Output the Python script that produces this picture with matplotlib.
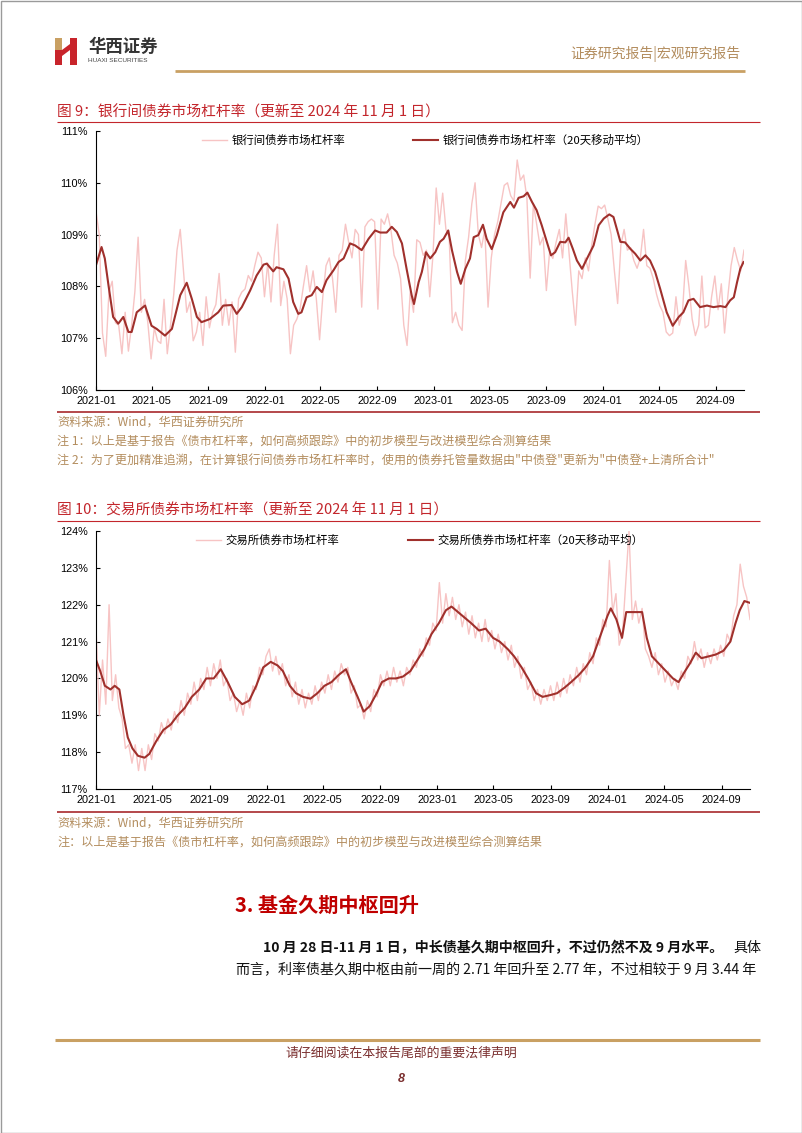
import numpy as np
import pandas as pd
import matplotlib
matplotlib.use("Agg")
import matplotlib.pyplot as plt
import matplotlib.dates as mdates
from matplotlib.patches import Rectangle, Polygon
from matplotlib.ticker import FuncFormatter

plt.rcParams['font.family'] = ['Noto Sans CJK SC', 'DejaVu Sans']

# ---------------- data ----------------
START = '2021-01-01'
END = '2024-11-01'

# chart 1: interbank bond market leverage, weekly readings of the daily line
raw1_values = [
    109.45, 109.0, 107.1, 106.65, 107.9, 108.1, 107.3, 107.25, 106.7, 107.5, 106.75,
    107.25, 107.9, 108.95, 107.5, 107.75, 107.3, 106.6, 107.2, 106.95, 106.9,
    107.75, 106.7, 107.25, 107.85, 108.7, 109.1, 108.3, 107.5, 107.7, 106.95,
    107.12, 107.5, 106.86, 107.8, 107.2, 107.5, 107.65, 108.25, 107.25, 107.75,
    107.25, 107.7, 106.73, 107.76, 107.89, 107.95, 108.21, 108.1, 108.4, 108.66,
    108.55, 107.8, 108.45, 107.7, 108.6, 109.2, 107.63, 108.1, 107.76, 106.7,
    107.25, 107.37, 107.57, 108.0, 108.4, 107.9, 108.3, 107.76, 106.97, 107.8,
    108.4, 108.55, 108.15, 107.5, 108.6, 108.7, 109.2, 108.85, 108.55, 109.1,
    109.0, 107.6, 109.15, 109.25, 109.3, 109.25, 107.56, 109.3, 109.2, 109.4,
    109.1, 108.6, 108.45, 108.15, 107.25, 106.86, 107.9, 107.5, 108.9, 108.85,
    108.6, 108.7, 107.8, 108.6, 109.9, 109.2, 109.8, 109.1, 108.95, 107.3,
    107.5, 107.25, 107.15, 108.5, 108.95, 109.6, 110.0, 109.0, 108.75, 109.1,
    107.6, 108.55, 109.0, 109.25, 109.6, 109.95, 110.0, 109.75, 109.65, 110.44,
    110.05, 110.15, 109.7, 108.16, 109.6, 109.2, 108.8, 108.95, 107.92, 108.66,
    108.54, 108.85, 109.1, 108.55, 109.4, 108.66, 107.9, 107.25, 108.3, 108.15,
    108.55, 108.3, 108.8, 109.2, 109.55, 109.5, 109.57, 109.3, 109.0, 108.3,
    107.67, 108.8, 109.1, 108.7, 108.75, 108.5, 108.35, 108.55, 109.1, 108.4,
    108.35, 108.15, 107.85, 107.63, 107.5, 107.12, 107.05, 107.1, 107.8, 107.25,
    107.5, 108.5, 108.0, 107.37, 107.05, 107.25, 108.2, 107.2, 107.25, 107.8,
    108.2, 107.55, 108.05, 107.1, 107.8, 108.4, 108.75, 108.5, 108.3, 108.7,
]

ma1_dates = [
    '2021-01-01', '2021-01-13', '2021-01-20', '2021-01-28', '2021-02-07', '2021-02-18',
    '2021-03-01', '2021-03-12', '2021-03-19', '2021-03-30', '2021-04-17', '2021-05-01',
    '2021-05-12', '2021-05-30', '2021-06-14', '2021-07-02', '2021-07-16', '2021-07-27',
    '2021-08-07', '2021-08-17', '2021-09-04', '2021-09-22', '2021-10-03', '2021-10-21',
    '2021-11-01', '2021-11-12', '2021-11-30', '2021-12-14', '2021-12-29',
    '2022-01-05', '2022-01-19', '2022-01-26', '2022-02-10', '2022-02-21', '2022-03-03',
    '2022-03-14', '2022-03-21', '2022-04-01', '2022-04-12', '2022-04-23', '2022-05-04',
    '2022-05-14', '2022-05-29', '2022-06-09', '2022-06-20', '2022-07-04', '2022-07-15',
    '2022-07-29', '2022-08-13', '2022-08-27', '2022-09-07', '2022-09-21', '2022-10-02',
    '2022-10-13', '2022-10-24', '2022-11-03', '2022-11-14', '2022-11-19', '2022-11-29',
    '2022-12-06', '2022-12-15', '2022-12-24',
    '2023-01-04', '2023-01-14', '2023-01-22', '2023-02-01', '2023-02-09', '2023-02-20',
    '2023-02-28', '2023-03-10', '2023-03-20', '2023-03-28', '2023-04-07', '2023-04-17',
    '2023-04-25', '2023-05-06', '2023-05-17', '2023-05-31', '2023-06-15', '2023-06-23',
    '2023-07-03', '2023-07-14', '2023-07-22', '2023-08-01', '2023-08-11', '2023-08-22',
    '2023-09-02', '2023-09-11', '2023-09-20', '2023-10-01', '2023-10-12', '2023-10-19',
    '2023-10-28', '2023-11-06', '2023-11-17', '2023-11-28', '2023-12-12', '2023-12-23',
    '2024-01-03', '2024-01-15', '2024-01-24', '2024-02-08', '2024-02-18', '2024-02-29',
    '2024-03-11', '2024-03-22', '2024-04-02', '2024-04-12', '2024-04-23', '2024-05-04',
    '2024-05-18', '2024-05-31', '2024-06-13', '2024-06-23', '2024-07-04', '2024-07-15',
    '2024-07-29', '2024-08-13', '2024-08-27', '2024-09-11', '2024-09-22', '2024-10-02',
    '2024-10-10', '2024-10-17', '2024-10-24', '2024-10-31',
]
ma1_values = [
    108.41, 108.76, 108.54, 108.02, 107.41, 107.28,
    107.41, 107.12, 107.12, 107.50, 107.63, 107.24,
    107.18, 107.05, 107.18, 107.83, 108.07, 107.76,
    107.41, 107.31, 107.37, 107.50, 107.63, 107.64,
    107.47, 107.60, 107.92, 108.21, 108.42,
    108.44, 108.29, 108.37, 108.33, 108.15, 107.70,
    107.47, 107.50, 107.79, 107.83, 107.99, 107.89,
    108.12, 108.31, 108.47, 108.54, 108.83, 108.79,
    108.70, 108.92, 109.08, 109.04, 109.04, 109.15,
    109.05, 108.83, 108.34, 107.83, 107.66, 108.08,
    108.28, 108.66, 108.54,
    108.66, 108.86, 108.92, 109.08, 108.70, 108.28,
    108.05, 108.34, 108.54, 108.95, 108.99, 109.19,
    108.92, 108.72, 108.99, 109.43, 109.63, 109.52,
    109.71, 109.74, 109.81, 109.63, 109.47, 109.18,
    108.86, 108.60, 108.66, 108.86, 108.85, 108.94,
    108.73, 108.50, 108.34, 108.54, 108.79, 109.18,
    109.31, 109.39, 109.34, 108.86, 108.85, 108.73,
    108.63, 108.50, 108.60, 108.50, 108.28, 107.95,
    107.50, 107.24, 107.41, 107.50, 107.73, 107.76,
    107.60, 107.63, 107.60, 107.62, 107.60, 107.73,
    107.79, 108.08, 108.34, 108.47,
]

# chart 2: exchange bond market leverage
raw2_values = [
    121.4, 119.0, 120.5, 119.3, 122.0, 119.4, 120.1, 119.2, 118.9, 118.1, 118.2,
    117.7, 118.2, 117.5, 118.1, 117.5, 118.2, 117.8, 118.5, 118.3, 118.8,
    118.5, 118.9, 118.6, 119.1, 118.8, 119.4, 119.0, 119.6, 119.3, 119.9,
    119.4, 120.0, 119.7, 120.3, 119.8, 120.4, 120.0, 120.5, 119.8, 120.0,
    119.4, 119.6, 119.1, 119.4, 119.0, 119.6, 119.2, 119.8, 119.7, 120.3,
    120.1, 120.6, 120.8, 120.2, 120.6, 120.1, 120.4, 119.8, 120.1, 119.5,
    119.9, 119.3, 119.7, 119.2, 119.6, 119.3, 119.8, 119.4, 119.9, 119.6,
    120.1, 119.7, 120.2, 119.9, 120.4, 120.1, 120.3, 119.6, 119.8, 119.2,
    119.3, 118.9, 119.4, 119.1, 119.7, 119.5, 120.1, 119.8, 120.2, 119.8,
    120.3, 119.9, 120.2, 119.8, 120.3, 120.1, 120.5, 120.3, 120.8, 120.6,
    121.1, 120.9, 121.5, 121.3, 122.6, 121.5, 122.3, 121.7, 122.2, 121.6,
    122.0, 121.4, 121.8, 121.2, 121.7, 121.1, 121.5, 121.0, 121.6, 121.0,
    121.3, 120.8, 121.2, 120.7, 121.0, 120.5, 120.9, 120.3, 120.6, 120.0,
    120.3, 119.7, 119.9, 119.4, 119.7, 119.3, 119.7, 119.4, 119.8, 119.4,
    119.9, 119.5, 120.0, 119.6, 120.1, 119.8, 120.3, 119.9, 120.4, 120.1,
    120.7, 120.4, 121.1, 120.9, 121.6, 121.4, 123.2, 121.8, 122.3, 120.9,
    121.2, 122.6, 124.0, 121.6, 122.1, 121.5, 121.9, 120.8, 120.6, 120.3,
    120.7, 120.1, 120.4, 119.9, 120.2, 119.8, 120.0, 119.7, 120.2, 120.0,
    120.6, 120.4, 121.0, 120.5, 120.8, 120.3, 120.7, 120.4, 120.8, 120.5,
    120.9, 120.6, 121.2, 121.0, 121.7, 122.0, 123.1, 122.5, 122.2, 121.6,
]

ma2_dates = [
    '2021-01-01', '2021-01-10', '2021-01-20', '2021-02-01', '2021-02-10', '2021-02-20',
    '2021-03-01', '2021-03-10', '2021-03-20', '2021-04-01', '2021-04-15', '2021-04-25',
    '2021-05-10', '2021-05-25', '2021-06-10', '2021-06-25', '2021-07-10', '2021-07-25',
    '2021-08-10', '2021-08-25', '2021-09-10', '2021-09-25', '2021-10-10', '2021-10-25',
    '2021-11-10', '2021-11-25', '2021-12-10', '2021-12-25',
    '2022-01-10', '2022-01-25', '2022-02-05', '2022-02-20', '2022-03-05', '2022-03-20',
    '2022-04-05', '2022-04-20', '2022-05-05', '2022-05-20', '2022-06-05', '2022-06-20',
    '2022-07-01', '2022-07-15', '2022-07-28', '2022-08-10', '2022-08-25', '2022-09-05',
    '2022-09-20', '2022-10-05', '2022-10-20', '2022-11-05', '2022-11-20', '2022-12-05',
    '2022-12-20',
    '2023-01-05', '2023-01-20', '2023-02-01', '2023-02-15', '2023-03-01', '2023-03-15',
    '2023-04-01', '2023-04-15', '2023-05-01', '2023-05-15', '2023-06-01', '2023-06-15',
    '2023-07-01', '2023-07-15', '2023-08-01', '2023-08-15', '2023-09-01', '2023-09-15',
    '2023-10-01', '2023-10-15', '2023-11-01', '2023-11-15', '2023-12-01', '2023-12-15',
    '2024-01-01', '2024-01-08', '2024-01-20', '2024-02-01', '2024-02-10', '2024-02-25',
    '2024-03-15', '2024-03-25', '2024-04-05', '2024-04-20', '2024-05-05', '2024-05-20',
    '2024-06-01', '2024-06-15', '2024-06-25', '2024-07-08', '2024-07-20', '2024-08-05',
    '2024-08-20', '2024-09-05', '2024-09-20', '2024-10-01', '2024-10-10', '2024-10-20',
    '2024-11-01',
]
ma2_values = [
    120.5, 120.2, 119.8, 119.7, 119.8, 119.7,
    119.0, 118.4, 118.1, 117.9, 117.85, 117.95,
    118.3, 118.6, 118.75, 119.0, 119.2, 119.5,
    119.7, 120.0, 120.0, 120.25, 119.9, 119.5,
    119.3, 119.4, 119.8, 120.3,
    120.45, 120.35, 120.2, 119.8, 119.6, 119.5,
    119.45, 119.6, 119.8, 119.9, 120.1, 120.25,
    119.9, 119.5, 119.1, 119.25, 119.6, 119.9,
    120.0, 120.0, 120.05, 120.2, 120.5, 120.8,
    121.2,
    121.5, 121.85, 121.95, 121.8, 121.65, 121.5,
    121.3, 121.35, 121.1, 121.0, 120.8, 120.6,
    120.3, 120.0, 119.6, 119.5, 119.55, 119.6,
    119.75, 119.9, 120.1, 120.3, 120.6, 121.1,
    121.7, 121.9, 121.6, 121.1, 121.8, 121.8,
    121.8, 121.1, 120.6, 120.4, 120.2, 120.0,
    119.9, 120.2, 120.4, 120.7, 120.55, 120.6,
    120.65, 120.75, 121.0, 121.5, 121.85, 122.1,
    122.05,
]

title1 = '图 9：银行间债券市场杠杆率（更新至 2024 年 11 月 1 日）'
title2 = '图 10：交易所债券市场杠杆率（更新至 2024 年 11 月 1 日）'
labels1 = ['银行间债券市场杠杆率', '银行间债券市场杠杆率（20天移动平均）']
labels2 = ['交易所债券市场杠杆率', '交易所债券市场杠杆率（20天移动平均）']
notes1 = ['资料来源：Wind，华西证券研究所',
          '注 1：以上是基于报告《债市杠杆率，如何高频跟踪》中的初步模型与改进模型综合测算结果',
          '注 2：为了更加精准追溯，在计算银行间债券市场杠杆率时，使用的债券托管量数据由"中债登"更新为"中债登+上清所合计"']
notes2 = ['资料来源：Wind，华西证券研究所',
          '注：以上是基于报告《债市杠杆率，如何高频跟踪》中的初步模型与改进模型综合测算结果']

# ---------------- style ----------------
PINK = '#f7c4c4'
DARK = '#a0302c'
RED = '#c3262c'
TAN = '#b38d5e'
GOLD = '#c9a063'
BROWN = '#7a2e2e'

W, H = 802, 1133
fig = plt.figure(figsize=(W / 100, H / 100), dpi=100)
fig.patch.set_facecolor('white')

# page layer in pixel coordinates
page = fig.add_axes([0, 0, 1, 1])
page.set_xlim(0, W)
page.set_ylim(H, 0)
page.axis('off')


def hline(y, x0, x1, color, lw):
    page.plot([x0, x1], [y, y], color=color, lw=lw, solid_capstyle='butt')


def chart(left, top, right, bottom, raw_vals, ma_dates, ma_vals, ylo, yhi, labels, leg_x):
    ax = fig.add_axes([left / W, 1 - bottom / H, (right - left) / W, (bottom - top) / H])
    raw_x = pd.date_range(START, periods=len(raw_vals), freq='7D')
    l1, = ax.plot(raw_x, raw_vals, color=PINK, lw=1.0)
    l2, = ax.plot(pd.to_datetime(ma_dates), ma_vals, color=DARK, lw=1.5)
    ax.set_xlim(pd.Timestamp(START), pd.Timestamp(END))
    ax.set_ylim(ylo, yhi)
    ax.set_yticks(range(ylo, yhi + 1))
    ax.yaxis.set_major_formatter(FuncFormatter(lambda v, p: f'{v:.0f}%'))
    ax.set_xticks(pd.date_range('2021-01-01', '2024-09-01', freq='4MS'))
    ax.xaxis.set_major_formatter(mdates.DateFormatter('%Y-%m'))
    for s in ['top', 'right']:
        ax.spines[s].set_visible(False)
    for s in ['left', 'bottom']:
        ax.spines[s].set_linewidth(0.8)
    ax.tick_params(direction='in', length=3, width=0.8, labelsize=7.8)
    ax.tick_params(axis='y', pad=6)
    ax.tick_params(axis='x', pad=4)
    for lbl in ax.get_xticklabels() + ax.get_yticklabels():
        lbl.set_fontfamily('Liberation Sans')
    ax.legend([l1, l2], labels, loc='center left', bbox_to_anchor=(leg_x, 0.965),
              ncol=2, frameon=False, fontsize=8.2, handlelength=2.2, handletextpad=0.4,
              columnspacing=6.0, borderpad=0, borderaxespad=0)
    return ax


# ---------------- header ----------------
page.add_patch(Rectangle((55, 38), 7, 12, color=GOLD, lw=0))
page.add_patch(Rectangle((55, 50), 7, 15, color='#c8242b', lw=0))
page.add_patch(Polygon([(62, 50), (70, 44), (70, 50), (62, 56)], color='#c8242b', lw=0))
page.add_patch(Rectangle((70, 38), 7, 27, color='#c8242b', lw=0))
page.text(88, 47, '华西证券', fontsize=12.5, fontweight='bold', color='#333333', va='center')
page.text(88, 61, 'HUAXI SECURITIES', fontsize=4.6, color='#444444', va='center',
          family='Liberation Sans')
page.text(740, 54, '证券研究报告|宏观研究报告', fontsize=10, color=TAN, va='center', ha='right')
hline(71, 175, 745, GOLD, 2.0)

# ---------------- figure 9 ----------------
page.text(57, 112, title1, fontsize=10.6, color=RED, va='center')
hline(122, 57, 760, RED, 0.8)
chart(96, 131, 744, 390, raw1_values, ma1_dates, ma1_values, 106, 111, labels1, 0.163)
hline(412, 57, 760, '#b4474b', 1.4)
for y, s in zip([422, 441, 461], notes1):
    page.text(57, y, s, fontsize=8.7, color=TAN, va='center')

# ---------------- figure 10 ----------------
page.text(57, 510, title2, fontsize=10.6, color=RED, va='center')
hline(521, 57, 760, RED, 0.8)
chart(96, 531, 750, 789, raw2_values, ma2_dates, ma2_values, 117, 124, labels2, 0.153)
hline(812, 57, 760, '#b4474b', 1.4)
for y, s in zip([823, 842], notes2):
    page.text(57, y, s, fontsize=8.7, color=TAN, va='center')

# ---------------- body text ----------------
page.text(235, 905, '3. 基金久期中枢回升', fontsize=14.5, fontweight='bold', color='#c00000',
          va='center')
page.text(263, 948, '10 月 28 日-11 月 1 日，中长债基久期中枢回升，不过仍然不及 9 月水平。',
          fontsize=10.1, fontweight='bold', color='#111111', va='center')
page.text(761, 948, '具体', fontsize=10.1, color='#111111', va='center', ha='right')
page.text(236, 970, '而言，利率债基久期中枢由前一周的 2.71 年回升至 2.77 年，不过相较于 9 月 3.44 年',
          fontsize=10.1, color='#111111', va='center')

# ---------------- footer ----------------
hline(1040, 55, 760, GOLD, 2.2)
page.text(401, 1053, '请仔细阅读在本报告尾部的重要法律声明', fontsize=9.3, color=BROWN,
          va='center', ha='center')
page.text(401, 1079, '8', fontsize=9, fontweight='bold', fontstyle='italic', color=BROWN,
          va='center', ha='center', family='Liberation Sans')

# thin page frame
page.add_patch(Rectangle((0.5, 0.5), W - 1, H - 1, fill=False, ec='#9a9a9a', lw=1.0))

fig.savefig('out.png', dpi=100, facecolor='white')
